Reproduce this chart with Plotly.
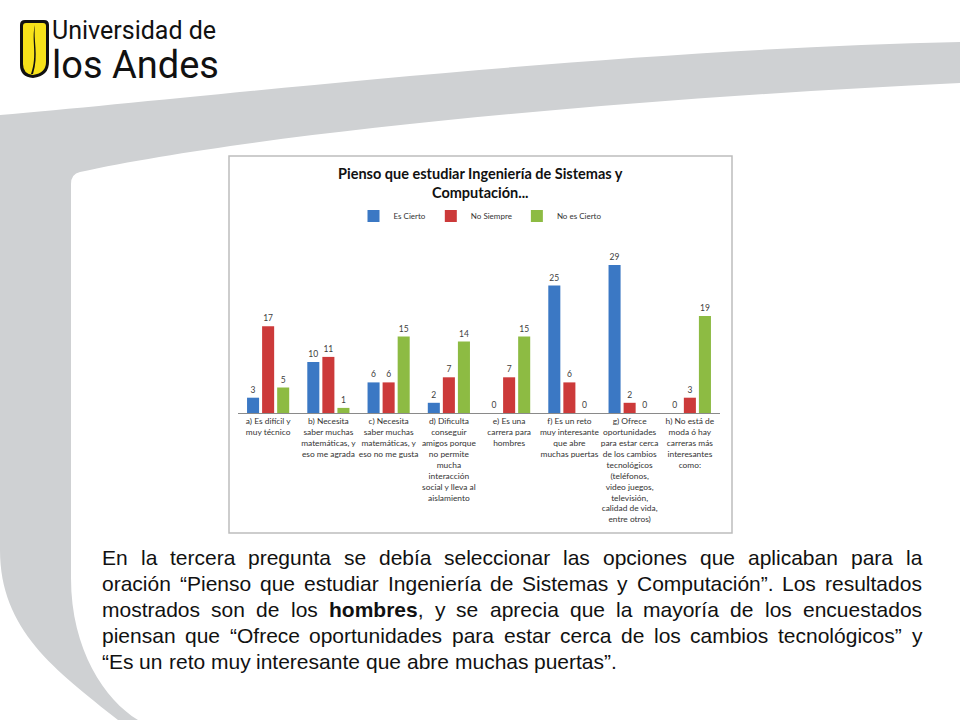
import plotly.graph_objects as go

# ---------------- data ----------------
categories = [
    "a) Es difícil y<br>muy técnico",
    "b) Necesita<br>saber muchas<br>matemáticas, y<br>eso me agrada",
    "c) Necesita<br>saber muchas<br>matemáticas, y<br>eso no me gusta",
    "d) Dificulta<br>conseguir<br>amigos porque<br>no permite<br>mucha<br>interacción<br>social y lleva al<br>aislamiento",
    "e) Es una<br>carrera para<br>hombres",
    "f) Es un reto<br>muy interesante<br>que abre<br>muchas puertas",
    "g) Ofrece<br>oportunidades<br>para estar cerca<br>de los cambios<br>tecnológicos<br>(teléfonos,<br>video juegos,<br>televisión,<br>calidad de vida,<br>entre otros)",
    "h) No está de<br>moda ó hay<br>carreras más<br>interesantes<br>como:",
]
es_cierto = [3, 10, 6, 2, 0, 25, 29, 0]
no_siempre = [17, 11, 6, 7, 7, 6, 2, 3]
no_es_cierto = [5, 1, 15, 14, 15, 0, 0, 19]
series_names = ["Es Cierto", "No Siempre", "No es Cierto"]

chart_title = "Pienso que estudiar Ingeniería de Sistemas y<br>Computación..."
paragraph_lines = [
    "En la tercera pregunta se debía seleccionar las opciones que aplicaban para la",
    "oración “Pienso que estudiar Ingeniería de Sistemas y Computación”. Los resultados",
    "mostrados son de los <b>hombres</b>, y se aprecia que la mayoría de los encuestados",
    "piensan que “Ofrece oportunidades para estar cerca de los cambios tecnológicos” y",
    "“Es un reto muy interesante que abre muchas puertas”.",
]

# ---------------- helpers ----------------
W, H = 960, 720
def X(px):
    return px / W
def Y(py):
    return 1 - py / H
def path(points_cmds):
    out = []
    for cmd in points_cmds:
        if isinstance(cmd, str):
            out.append(cmd)
        else:
            out.append(f"{X(cmd[0]):.5f},{Y(cmd[1]):.5f}")
    return " ".join(out)

colors = ["#3B78C4", "#CC3A3A", "#8DBB43"]

fig = go.Figure()
for name, vals, c in zip(series_names, [es_cierto, no_siempre, no_es_cierto], colors):
    fig.add_trace(go.Bar(
        x=categories, y=vals, name=name,
        marker=dict(color=c, line=dict(width=0)),
        text=[str(v) for v in vals], textposition="outside",
        textfont=dict(family="Lato, Open Sans, sans-serif", size=8.5, color="#404040"),
        cliponaxis=False,
    ))

shapes = []
# grey swoosh
shapes.append(dict(
    type="path", xref="paper", yref="paper", layer="below",
    path=path(["M", (0, 115), "C", (200, 98), (600, 50), (960, 42),
               "L", (960, 83), "C", (600, 100), (250, 135), (80, 172),
               "Q", (71, 174), (71, 184),
               "L", (71, 578), "C", (71, 650), (105, 700), (138, 720),
               "L", (118, 720), "C", (55, 670), (0, 630), (0, 550), "Z"]),
    fillcolor="#CFD1D3", line=dict(width=0),
))
# chart frame
shapes.append(dict(type="rect", xref="paper", yref="paper", layer="below",
                   x0=X(229), x1=X(732), y0=Y(533), y1=Y(156),
                   fillcolor="white", line=dict(color="#BDBDBD", width=1.5)))
# logo shield
shapes.append(dict(
    type="path", xref="paper", yref="paper", layer="below",
    path=path(["M", (20, 25), "Q", (20, 20), (25, 20), "L", (44, 20), "Q", (49, 20), (49, 25),
               "L", (49, 62), "Q", (49, 76), (33, 78), "Q", (20, 77), (20, 65), "Z"]),
    fillcolor="#111111", line=dict(width=0)))
shapes.append(dict(
    type="path", xref="paper", yref="paper", layer="below",
    path=path(["M", (23, 26), "Q", (23, 23), (26, 23), "L", (43, 23), "Q", (46, 23), (46, 26),
               "L", (46, 62), "Q", (46, 73), (33, 75), "Q", (23, 74), (23, 64), "Z"]),
    fillcolor="#F7E21A", line=dict(width=0)))
shapes.append(dict(
    type="path", xref="paper", yref="paper", layer="below",
    path=path(["M", (35, 25), "C", (31, 40), (38, 55), (31, 74), "L", (33, 74),
               "C", (39, 55), (33, 40), (35, 25), "Z"]),
    fillcolor="#111111", line=dict(width=0)))

annotations = []
annotations.append(dict(
    text="<span style='font-size:25px'>Universidad de</span><br><span style='font-size:38px'>los Andes</span>",
    x=X(51), y=Y(52), xref="paper", yref="paper", align="left",
    xanchor="left", yanchor="middle", showarrow=False, borderpad=0,
    font=dict(family="Roboto, sans-serif", size=30, color="#111111")))
annotations.append(dict(text="<b>" + chart_title + "</b>", x=X(480), y=Y(183), xref="paper", yref="paper",
                        xanchor="center", yanchor="middle", showarrow=False,
                        font=dict(family="Lato, Open Sans, sans-serif", size=14.5, color="#111111")))

# justified paragraph using Arial metrics (Liberation Sans is metric-compatible)
reg = {**dict(zip("abcdefghijklmnopqrstuvwxyz",
                  [556,556,500,556,556,278,556,556,222,222,500,222,833,556,556,556,556,333,500,278,556,500,722,500,500,500])),
       **dict(zip("ABCDEFGHIJKLMNOPQRSTUVWXYZ",
                  [667,667,722,722,667,611,778,722,278,500,667,556,833,722,778,667,778,722,667,611,722,667,944,667,667,611])),
       "á": 556, "é": 556, "í": 278, "ó": 556, "ú": 556, "ñ": 556, " ": 278, ",": 278, ".": 278,
       "“": 333, "”": 333, ":": 278, "(": 333, ")": 333}
bold = {"h": 611, "o": 611, "m": 889, "b": 611, "r": 389, "e": 556, "s": 556}
FS = 21
def word_width(w):
    total = 0
    isb = False
    i = 0
    while i < len(w):
        if w.startswith("<b>", i):
            isb = True; i += 3; continue
        if w.startswith("</b>", i):
            isb = False; i += 4; continue
        ch = w[i]
        total += (bold.get(ch, reg.get(ch, 556)) if isb else reg.get(ch, 556))
        i += 1
    return total * FS / 1000

left, right = 102, 922
line_y0, line_dy = 557, 26
for li, line in enumerate(paragraph_lines):
    words = line.split(" ")
    widths = [word_width(w) for w in words]
    if li < len(paragraph_lines) - 1:
        gap = (right - left - sum(widths)) / (len(words) - 1)
    else:
        gap = 278 * FS / 1000
    xpos = left
    for w, wd in zip(words, widths):
        annotations.append(dict(text=w, x=X(xpos), y=Y(line_y0 + li * line_dy), xref="paper", yref="paper",
                                xanchor="left", yanchor="middle", showarrow=False, borderpad=0, borderwidth=0,
                                font=dict(family="Liberation Sans, Arial, sans-serif", size=FS, color="#111111")))
        xpos += wd + gap

fig.update_layout(
    width=W, height=H, autosize=False,
    margin=dict(l=0, r=0, t=0, b=0),
    paper_bgcolor="white", plot_bgcolor="rgba(0,0,0,0)",
    barmode="group", bargap=0.25, bargroupgap=0.2,
    showlegend=True,
    legend=dict(orientation="h", x=0.5, xanchor="center", y=Y(216), yanchor="middle",
                font=dict(family="Lato, Open Sans, sans-serif", size=8, color="#333333"),
                itemwidth=30, bgcolor="rgba(0,0,0,0)", traceorder="normal"),
    xaxis=dict(domain=[X(238), X(720)], showline=True, linecolor="#8A8A8A", linewidth=1,
               ticks="", showgrid=False, zeroline=False, tickangle=0, automargin=False,
               tickfont=dict(family="Lato, Open Sans, sans-serif", size=8.4, color="#333333")),
    yaxis=dict(domain=[Y(413), Y(250)], range=[0, 31.96], visible=False, showgrid=False),
    shapes=shapes, annotations=annotations,
    font=dict(family="Lato, sans-serif"),
)

fig.write_html("out.html", config={"displayModeBar": False},
               post_script="document.body.style.margin='0';document.body.style.padding='0';")
